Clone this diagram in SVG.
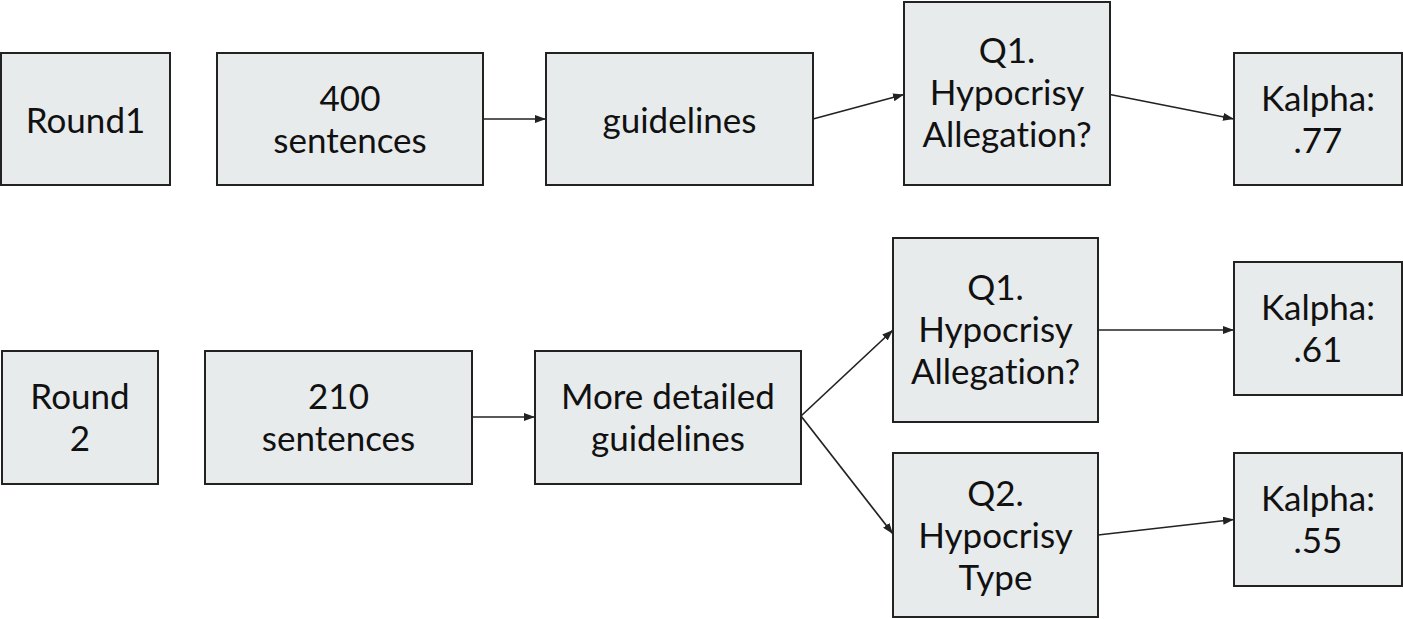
<svg xmlns="http://www.w3.org/2000/svg" width="1403" height="619" viewBox="0 0 1403 619">
<style>
.box{fill:#e8ebec;stroke:#222;stroke-width:2}
.t{font-family:Lato,"Liberation Sans",sans-serif;font-size:35px;fill:#111;text-anchor:middle;font-variant-ligatures:none}
.c{stroke:#222;stroke-width:1.7;fill:none;marker-end:url(#arr)}
</style>
<defs>
<marker id="arr" markerUnits="userSpaceOnUse" markerWidth="11" markerHeight="8" refX="11" refY="4" orient="auto">
<path d="M0,0 L11,4 L0,8 z" fill="#222"/>
</marker>
</defs>
<rect width="1403" height="619" fill="#fff"/>
<g id="connectors">
<line class="c" x1="483" y1="119" x2="546" y2="119"/>
<line class="c" x1="813" y1="119" x2="904" y2="94.5"/>
<line class="c" x1="1110" y1="94.5" x2="1234" y2="119"/>
<line class="c" x1="472" y1="417" x2="535" y2="417"/>
<line class="c" x1="801" y1="416" x2="893" y2="330"/>
<line class="c" x1="801" y1="416" x2="893" y2="534"/>
<line class="c" x1="1098" y1="330" x2="1234" y2="330"/>
<line class="c" x1="1098" y1="535" x2="1234" y2="519.5"/>
</g>
<g id="round1"><rect class="box" x="1" y="53" width="169" height="132"/><text class="t" x="85.5" y="132.5">Round1</text></g>
<g id="sent400"><rect class="box" x="217" y="53" width="266" height="132"/><text class="t" x="350" y="110.5">400</text><text class="t" x="350" y="152.5">sentences</text></g>
<g id="guidelines"><rect class="box" x="546" y="53" width="267" height="132"/><text class="t" x="679.5" y="132.5">guidelines</text></g>
<g id="q1a"><rect class="box" x="904" y="2" width="206" height="183"/><text class="t" x="1007" y="63">Q1.</text><text class="t" x="1007" y="105">Hypocrisy</text><text class="t" x="1007" y="147">Allegation?</text></g>
<g id="k77"><rect class="box" x="1234" y="53" width="168" height="132"/><text class="t" x="1318" y="110.5">Kalpha:</text><text class="t" x="1318" y="152.5">.77</text></g>
<g id="round2"><rect class="box" x="2" y="351" width="156" height="133"/><text class="t" x="80" y="409">Round</text><text class="t" x="80" y="451">2</text></g>
<g id="sent210"><rect class="box" x="205" y="351" width="267" height="133"/><text class="t" x="338.5" y="409">210</text><text class="t" x="338.5" y="451">sentences</text></g>
<g id="mdg"><rect class="box" x="535" y="351" width="266" height="133"/><text class="t" x="668" y="409">More detailed</text><text class="t" x="668" y="451">guidelines</text></g>
<g id="q1b"><rect class="box" x="893" y="238" width="205" height="184"/><text class="t" x="995.5" y="299.5">Q1.</text><text class="t" x="995.5" y="341.5">Hypocrisy</text><text class="t" x="995.5" y="383.5">Allegation?</text></g>
<g id="q2"><rect class="box" x="893" y="453" width="205" height="164"/><text class="t" x="995.5" y="505.5">Q2.</text><text class="t" x="995.5" y="547.5">Hypocrisy</text><text class="t" x="995.5" y="589.5">Type</text></g>
<g id="k61"><rect class="box" x="1234" y="262" width="168" height="133"/><text class="t" x="1318" y="320">Kalpha:</text><text class="t" x="1318" y="362">.61</text></g>
<g id="k55"><rect class="box" x="1234" y="453" width="168" height="133"/><text class="t" x="1318" y="511">Kalpha:</text><text class="t" x="1318" y="553">.55</text></g>
</svg>
